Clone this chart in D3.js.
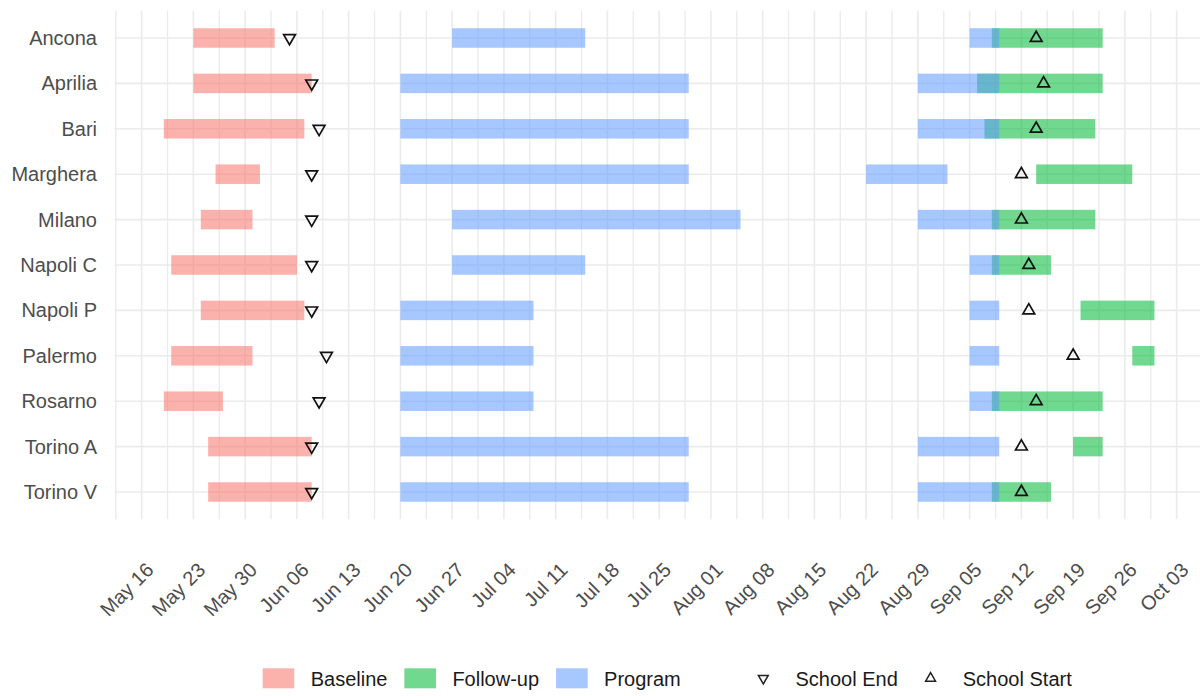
<!DOCTYPE html>
<html>
<head>
<meta charset="utf-8">
<script src="https://cdn.jsdelivr.net/npm/d3@7"></script>
<style>
  body { margin: 0; background: #fff; }
  svg { font-family: "Liberation Sans", Arial, Helvetica, sans-serif; }
</style>
</head>
<body>
<svg id="chart" width="1200" height="696"></svg>
<script>
// site rows, top to bottom
var sites = ["Ancona", "Aprilia", "Bari", "Marghera", "Milano", "Napoli C",
             "Napoli P", "Palermo", "Rosarno", "Torino A", "Torino V"];

// Baseline phase
var baselineStart = ["2021-05-23", "2021-05-23", "2021-05-19", "2021-05-26", "2021-05-24", "2021-05-20",
                     "2021-05-24", "2021-05-20", "2021-05-19", "2021-05-25", "2021-05-25"];
var baselineEnd   = ["2021-06-03", "2021-06-08", "2021-06-07", "2021-06-01", "2021-05-31", "2021-06-06",
                     "2021-06-07", "2021-05-31", "2021-05-27", "2021-06-08", "2021-06-08"];

// Program, summer block
var programStart  = ["2021-06-27", "2021-06-20", "2021-06-20", "2021-06-20", "2021-06-27", "2021-06-27",
                     "2021-06-20", "2021-06-20", "2021-06-20", "2021-06-20", "2021-06-20"];
var programEnd    = ["2021-07-15", "2021-07-29", "2021-07-29", "2021-07-29", "2021-08-05", "2021-07-15",
                     "2021-07-08", "2021-07-08", "2021-07-08", "2021-07-29", "2021-07-29"];

// Program, September block
var program2Start = ["2021-09-05", "2021-08-29", "2021-08-29", "2021-08-22", "2021-08-29", "2021-09-05",
                     "2021-09-05", "2021-09-05", "2021-09-05", "2021-08-29", "2021-08-29"];
var program2End   = ["2021-09-09", "2021-09-09", "2021-09-09", "2021-09-02", "2021-09-09", "2021-09-09",
                     "2021-09-09", "2021-09-09", "2021-09-09", "2021-09-09", "2021-09-09"];

// Follow-up phase
var followStart   = ["2021-09-08", "2021-09-06", "2021-09-07", "2021-09-14", "2021-09-08", "2021-09-08",
                     "2021-09-20", "2021-09-27", "2021-09-08", "2021-09-19", "2021-09-08"];
var followEnd     = ["2021-09-23", "2021-09-23", "2021-09-22", "2021-09-27", "2021-09-22", "2021-09-16",
                     "2021-09-30", "2021-09-30", "2021-09-23", "2021-09-23", "2021-09-16"];

// school calendar
var schoolEnd     = ["2021-06-05", "2021-06-08", "2021-06-09", "2021-06-08", "2021-06-08", "2021-06-08",
                     "2021-06-08", "2021-06-10", "2021-06-09", "2021-06-08", "2021-06-08"];
var schoolStart   = ["2021-09-14", "2021-09-15", "2021-09-14", "2021-09-12", "2021-09-12", "2021-09-13",
                     "2021-09-13", "2021-09-19", "2021-09-14", "2021-09-12", "2021-09-12"];

var phases = ["Baseline", "Follow-up", "Program"];
var phaseColors = ["#F8766D", "#00BA38", "#619CFF"];
var shapeLabels = ["School End", "School Start"];

var parse = d3.utcParse("%Y-%m-%d");

// build the segment table: baseline, follow-up, then program (program drawn on top)
var segments = [];
sites.forEach(function(s, i) {
    segments.push({site: s, phase: "Baseline", start: parse(baselineStart[i]), end: parse(baselineEnd[i])});
});
sites.forEach(function(s, i) {
    segments.push({site: s, phase: "Follow-up", start: parse(followStart[i]), end: parse(followEnd[i])});
});
sites.forEach(function(s, i) {
    segments.push({site: s, phase: "Program", start: parse(programStart[i]), end: parse(programEnd[i])});
    segments.push({site: s, phase: "Program", start: parse(program2Start[i]), end: parse(program2End[i])});
});

var points = [];
sites.forEach(function(s, i) {
    points.push({site: s, kind: "School End", date: parse(schoolEnd[i])});
    points.push({site: s, kind: "School Start", date: parse(schoolStart[i])});
});

var chart = d3.select('#chart');

// panel geometry
var panelLeft = 114.3, panelRight = 1204,
    rowTop = 38, rowBottom = 492,
    barHeight = 19.5;

// date domain with 5% expansion like ggplot
var allDates = segments.map(function(d) { return d.start; })
    .concat(segments.map(function(d) { return d.end; }))
    .concat(points.map(function(d) { return d.date; }));
var ext = d3.extent(allDates);
var pad = (ext[1] - ext[0]) * 0.05;

var xScale = d3.scaleUtc()
    .domain([new Date(+ext[0] - pad), new Date(+ext[1] + pad)])
    .range([panelLeft, panelRight]);

var yScale = d3.scalePoint()
    .domain(sites)
    .range([rowTop, rowBottom]);

var step = yScale.step();
var panelTop = rowTop - 0.6 * step,
    panelBottom = rowBottom + 0.6 * step;

var color = d3.scaleOrdinal().domain(phases).range(phaseColors);

// grid
var grid = chart.append('g').attr('id', 'grid');
var majors = xScale.ticks(d3.utcWeek);
var minors = [];
majors.forEach(function(t) {
    var m = d3.utcHour.offset(t, -84);
    if (m >= xScale.domain()[0]) minors.push(m);
});

grid.selectAll('.minor')
    .data(minors)
    .enter().append('line')
    .attr('class', 'minor')
    .attr('x1', function(d) { return xScale(d); })
    .attr('x2', function(d) { return xScale(d); })
    .attr('y1', panelTop).attr('y2', panelBottom)
    .attr('stroke', '#EBEBEB').attr('stroke-width', 1.3);

grid.selectAll('.major')
    .data(majors)
    .enter().append('line')
    .attr('class', 'major')
    .attr('x1', function(d) { return xScale(d); })
    .attr('x2', function(d) { return xScale(d); })
    .attr('y1', panelTop).attr('y2', panelBottom)
    .attr('stroke', '#EBEBEB').attr('stroke-width', 1.6);

grid.selectAll('.hline')
    .data(sites)
    .enter().append('line')
    .attr('class', 'hline')
    .attr('x1', panelLeft).attr('x2', panelRight)
    .attr('y1', function(d) { return yScale(d); })
    .attr('y2', function(d) { return yScale(d); })
    .attr('stroke', '#EBEBEB').attr('stroke-width', 1.6);

// bars
chart.append('g').attr('id', 'bars')
    .selectAll('rect')
    .data(segments)
    .enter().append('rect')
    .attr('x', function(d) { return xScale(d.start); })
    .attr('y', function(d) { return yScale(d.site) - barHeight / 2; })
    .attr('width', function(d) { return xScale(d.end) - xScale(d.start); })
    .attr('height', barHeight)
    .attr('fill', function(d) { return color(d.phase); })
    .attr('fill-opacity', 0.56);

// school end / start markers
var tri = d3.symbol().type(d3.symbolTriangle).size(60);
chart.append('g').attr('id', 'markers')
    .selectAll('path')
    .data(points)
    .enter().append('path')
    .attr('d', tri)
    .attr('transform', function(d) {
        var rot = d.kind === "School End" ? 180 : 0;
        return 'translate(' + xScale(d.date) + ',' + yScale(d.site) + ') rotate(' + rot + ')';
    })
    .attr('fill', 'none')
    .attr('stroke', '#111')
    .attr('stroke-width', 1.7);

// y axis labels
chart.append('g').attr('id', 'y-axis')
    .selectAll('text')
    .data(sites)
    .enter().append('text')
    .attr('x', 97)
    .attr('y', function(d) { return yScale(d); })
    .attr('dy', '0.35em')
    .attr('text-anchor', 'end')
    .attr('font-size', 20)
    .attr('fill', '#4D4D4D')
    .text(function(d) { return d; });

// x axis labels, rotated 45
var fmt = d3.utcFormat("%b %d");
chart.append('g').attr('id', 'x-axis')
    .selectAll('text')
    .data(majors)
    .enter().append('text')
    .attr('transform', function(d) { return 'translate(' + (xScale(d) + 3) + ',561) rotate(-45)'; })
    .attr('dy', '0.72em')
    .attr('text-anchor', 'end')
    .attr('font-size', 20)
    .attr('fill', '#4D4D4D')
    .text(function(d) { return fmt(d); });

// legend along the bottom
var legend = chart.append('g').attr('id', 'legend');
var keyW = 31.6, keyH = 20, textGap = 16.4, itemGap = 17, groupGap = 66.7,
    legendY = 678.3;
var cursor = 0;
var items = [];
phases.forEach(function(p) { items.push({label: p, type: 'fill'}); });
shapeLabels.forEach(function(s) { items.push({label: s, type: 'shape'}); });

items.forEach(function(it, i) {
    if (i > 0) cursor += (items[i - 1].type !== it.type) ? groupGap : itemGap;
    var g = legend.append('g').attr('transform', 'translate(' + cursor + ',0)');
    if (it.type === 'fill') {
        g.append('rect')
            .attr('x', 0).attr('y', legendY - keyH / 2)
            .attr('width', keyW).attr('height', keyH)
            .attr('fill', color(it.label)).attr('fill-opacity', 0.56);
    } else {
        g.append('path')
            .attr('d', d3.symbol().type(d3.symbolTriangle).size(42))
            .attr('transform', 'translate(' + (keyW / 2) + ',' + legendY + ') rotate(' + (it.label === "School End" ? 180 : 0) + ')')
            .attr('fill', 'none').attr('stroke', '#222').attr('stroke-width', 1.5);
    }
    var t = g.append('text')
        .attr('x', keyW + textGap)
        .attr('y', legendY)
        .attr('dy', '0.36em')
        .attr('font-size', 20)
        .attr('fill', '#1A1A1A')
        .text(it.label);
    cursor += keyW + textGap + t.node().getComputedTextLength();
});

// centre the legend under the panel
legend.attr('transform', 'translate(' + (667.2 - cursor / 2) + ',0)');
</script>
</body>
</html>
